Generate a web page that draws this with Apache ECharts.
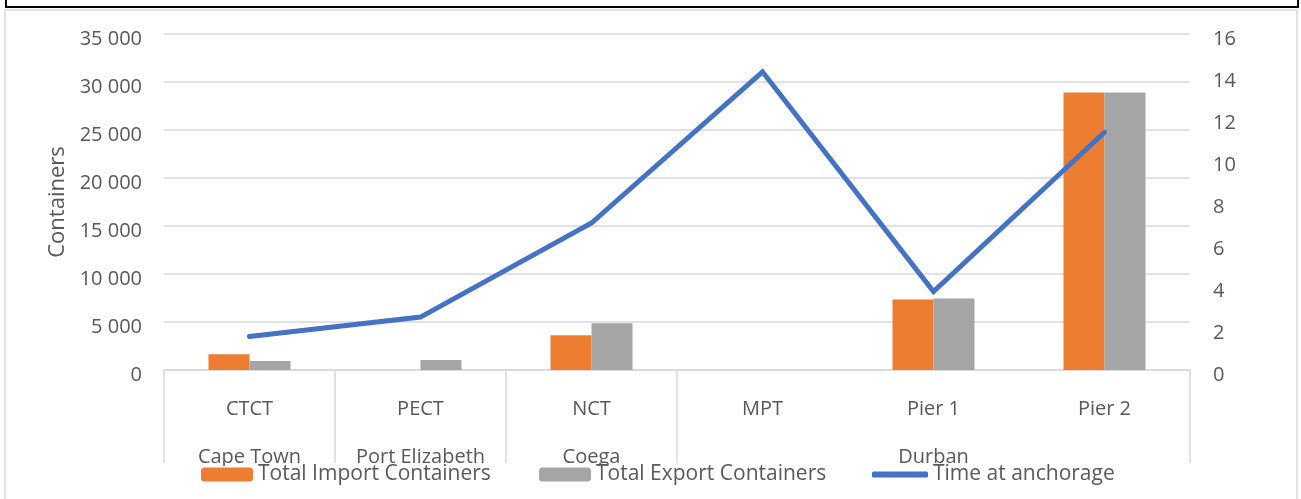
<!DOCTYPE html>
<html>
<head>
<meta charset="utf-8">
<script src="https://cdn.jsdelivr.net/npm/echarts@6/dist/echarts.min.js"></script>
<style>
  html, body { margin: 0; padding: 0; background: #fff; }
  #chart { width: 1301px; height: 499px; }
</style>
</head>
<body>
<div id="chart"></div>
<script>
// terminals and the port each belongs to
const terminals = ['CTCT', 'PECT', 'NCT', 'MPT', 'Pier 1', 'Pier 2']
// port names sit under the middle terminal of each group (Durban under Pier 1)
const ports = ['Cape Town', 'Port Elizabeth', 'Coega', '', 'Durban', '']
const importContainers = [1650, 0, 3620, 0, 7350, 28900]
const exportContainers = [930, 1030, 4870, 0, 7450, 28900]
const anchorageTime = [1.6, 2.52, 7.0, 14.2, 3.74, 11.32]

const grey = '#595959'
const gridGrey = '#d9d9d9'
const font = 'Open Sans'

// 35000 -> "35 000"
const spaced = v => String(v).replace(/\B(?=(\d{3})+(?!\d))/g, ' ')

const chart = echarts.init(document.getElementById('chart'))

const legendBase = {
  top: 464,
  padding: 0,
  itemHeight: 14,
  itemWidth: 52,
  textStyle: { fontFamily: font, fontSize: 21, color: grey }
}

// value labels sit a few px below their gridline, like in Excel
const yLabel = { fontSize: 20, color: grey, verticalAlign: 'top', lineHeight: 10 }

const option = {
  animation: false,
  textStyle: { fontFamily: font },
  grid: { left: 164, right: 111, top: 34, bottom: 129 },
  legend: [
    Object.assign({}, legendBase, { left: 201, data: ['Total Import Containers'] }),
    Object.assign({}, legendBase, { left: 539, data: ['Total Export Containers'] }),
    Object.assign({}, legendBase, {
      left: 872, itemWidth: 56, itemHeight: 6,
      data: [{ name: 'Time at anchorage', icon: 'roundRect' }]
    })
  ],
  xAxis: [
    {
      type: 'category',
      data: terminals,
      axisLine: { show: true, lineStyle: { color: gridGrey, width: 1.5 } },
      // separators only between the ports, not inside Durban
      axisTick: {
        show: true,
        length: 93,
        lineStyle: { color: gridGrey, width: 1.5 },
        interval: idx => idx <= 3
      },
      axisLabel: { interval: 0, margin: 29, fontSize: 20, color: grey }
    },
    {
      type: 'category',
      position: 'bottom',
      data: ports,
      axisLine: { show: false },
      axisTick: { show: false },
      axisLabel: { interval: 0, margin: 77, fontSize: 20, color: grey }
    }
  ],
  yAxis: [
    {
      type: 'value',
      min: 0,
      max: 35000,
      interval: 5000,
      name: 'Containers',
      nameLocation: 'middle',
      nameGap: 90,
      nameTextStyle: { fontSize: 22, color: grey },
      axisLabel: Object.assign({ margin: 22, formatter: spaced }, yLabel),
      splitLine: { lineStyle: { color: gridGrey, width: 1.5 } }
    },
    {
      type: 'value',
      min: 0,
      max: 16,
      interval: 2,
      position: 'right',
      axisLabel: Object.assign({ margin: 23 }, yLabel),
      splitLine: { show: false }
    }
  ],
  series: [
    {
      name: 'Total Import Containers',
      type: 'bar',
      data: importContainers,
      barWidth: 41,
      barGap: '0%',
      itemStyle: { color: '#ED7D31' }
    },
    {
      name: 'Total Export Containers',
      type: 'bar',
      data: exportContainers,
      barWidth: 41,
      barGap: '0%',
      itemStyle: { color: '#A5A5A5' }
    },
    {
      name: 'Time at anchorage',
      type: 'line',
      yAxisIndex: 1,
      data: anchorageTime,
      symbol: 'none',
      z: 3,
      lineStyle: { color: '#4472C4', width: 5, cap: 'round', join: 'miter' },
      itemStyle: { color: '#4472C4' }
    }
  ],
  graphic: [
    // edge of the box above the chart
    { type: 'rect', shape: { x: 6, y: -10, width: 1292, height: 17 }, style: { fill: 'none', stroke: '#000', lineWidth: 2 } },
    // chart frame
    { type: 'rect', shape: { x: 5, y: 10, width: 1292, height: 500 }, style: { fill: 'none', stroke: gridGrey, lineWidth: 1.5 } },
    // label area is clipped just above the legend
    { type: 'rect', z: 3, shape: { x: 7, y: 466, width: 1288, height: 40 }, style: { fill: '#fff' } }
  ]
}

chart.setOption(option)
</script>
</body>
</html>
